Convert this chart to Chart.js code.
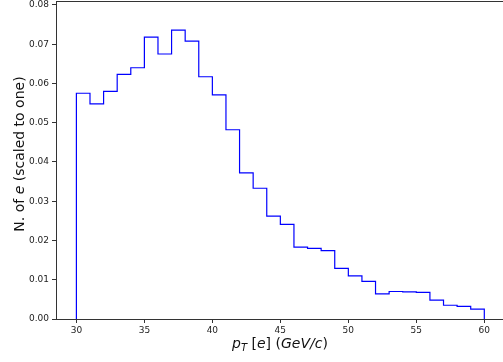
<!DOCTYPE html>
<html>
<head>
<meta charset="utf-8">
<script src="https://cdn.jsdelivr.net/npm/chart.js@4"></script>
<style>
  html, body { margin: 0; padding: 0; background: #fff; overflow: hidden; }
  #wrap { width: 503px; height: 362px; overflow: hidden; }
</style>
</head>
<body>
<div id="wrap"><canvas id="chartCanvas" width="507" height="362"></canvas></div>
<script>
// ------- Data -------
// bin edges of the pT histogram (GeV/c), one bin per GeV
const binEdges = [30, 31, 32, 33, 34, 35, 36, 37, 38, 39, 40, 41, 42, 43, 44, 45,
  46, 47, 48, 49, 50, 51, 52, 53, 54, 55, 56, 57, 58, 59, 60];
// normalised entries per bin (sum ~ 1)
const binValues = [
  0.0575, 0.0548, 0.0580, 0.0623, 0.0640, 0.0718, 0.0675, 0.0736, 0.0708, 0.0617,
  0.0571, 0.0482, 0.0372, 0.0333, 0.0262, 0.0241, 0.0183, 0.0180, 0.0174, 0.0129,
  0.0110, 0.0096, 0.0064, 0.0070, 0.0069, 0.0068, 0.0048, 0.0035, 0.0032, 0.0025
];
const xTicks = [30, 35, 40, 45, 50, 55, 60];
const yTicks = [0, 0.01, 0.02, 0.03, 0.04, 0.05, 0.06, 0.07, 0.08];

// ------- Helpers -------
// outline of a step histogram: up at the first edge, flat over each bin, down at the last edge
function stepOutline(edges, values) {
  const pts = [{ x: edges[0], y: 0 }];
  values.forEach((v, i) => pts.push({ x: edges[i], y: v }));
  pts.push({ x: edges[edges.length - 1], y: 0 });
  return pts;
}

const FONT = "'DejaVu Sans', sans-serif";

// draw a row of text pieces with their own style, centred on x
function drawRuns(ctx, runs, cx, baseline) {
  let total = 0;
  runs.forEach((r) => {
    ctx.font = `${r.italic ? "oblique " : ""}${r.size}px ${FONT}`;
    r.w = ctx.measureText(r.text).width;
    total += r.w;
  });
  let x = cx - total / 2;
  runs.forEach((r) => {
    ctx.font = `${r.italic ? "oblique " : ""}${r.size}px ${FONT}`;
    ctx.fillText(r.text, x, baseline + (r.dy || 0));
    x += r.w;
  });
}

// frame round the plot area plus the two axis labels
const framePlugin = {
  id: "frameAndLabels",
  afterDraw(chart) {
    const { ctx, chartArea: a } = chart;
    ctx.save();
    ctx.strokeStyle = "#333";
    ctx.lineWidth = 1;
    ctx.strokeRect(Math.round(a.left) + 0.5, Math.round(a.top) + 0.5,
      Math.round(a.right - a.left), Math.round(a.bottom - a.top));

    ctx.fillStyle = "#111";
    ctx.textAlign = "left";
    ctx.textBaseline = "alphabetic";
    drawRuns(ctx, [
      { text: "p", size: 14, italic: true },
      { text: "T", size: 10, italic: true, dy: 3 },
      { text: " [", size: 14 },
      { text: "e", size: 14, italic: true },
      { text: "] (", size: 14 },
      { text: "GeV/c", size: 14, italic: true },
      { text: ")", size: 14 }
    ], 280, 348);

    ctx.translate(24, 154);
    ctx.rotate(-Math.PI / 2);
    drawRuns(ctx, [
      { text: "N. of ", size: 14 },
      { text: "e", size: 14, italic: true },
      { text: " (scaled to one)", size: 14 }
    ], 0, 0);
    ctx.restore();
  }
};

// ------- Chart -------
const ctx = document.getElementById("chartCanvas").getContext("2d");
new Chart(ctx, {
  type: "line",
  data: {
    datasets: [{
      data: stepOutline(binEdges, binValues),
      stepped: "before",
      borderColor: "#0000ff",
      borderWidth: 1.2,
      pointRadius: 0,
      fill: false
    }]
  },
  options: {
    responsive: false,
    devicePixelRatio: 1,
    animation: false,
    layout: { padding: { top: 1, right: 2.3, left: 0, bottom: 0 } },
    plugins: { legend: { display: false }, tooltip: { enabled: false } },
    scales: {
      x: {
        type: "linear",
        min: 28.5,
        max: 61.5,
        afterFit: (s) => { s.height = 43; s.paddingLeft = 0; s.paddingRight = 0; },
        afterBuildTicks: (s) => { s.ticks = xTicks.map((v) => ({ value: v })); },
        grid: { drawOnChartArea: false, drawTicks: true, tickLength: 4, color: "#333" },
        border: { display: true, color: "#333" },
        ticks: { color: "#222", font: { family: FONT, size: 9 }, padding: 2, maxRotation: 0 }
      },
      y: {
        type: "linear",
        min: 0,
        max: 0.081,
        afterFit: (s) => { s.width = 56; s.paddingTop = 0; s.paddingBottom = 0; },
        afterBuildTicks: (s) => { s.ticks = yTicks.map((v) => ({ value: v })); },
        grid: { drawOnChartArea: false, drawTicks: true, tickLength: 4, color: "#333" },
        border: { display: true, color: "#333" },
        ticks: {
          color: "#222",
          font: { family: FONT, size: 9 },
          padding: 3,
          callback: (v) => v.toFixed(2)
        }
      }
    }
  },
  plugins: [framePlugin]
});
</script>
</body>
</html>
